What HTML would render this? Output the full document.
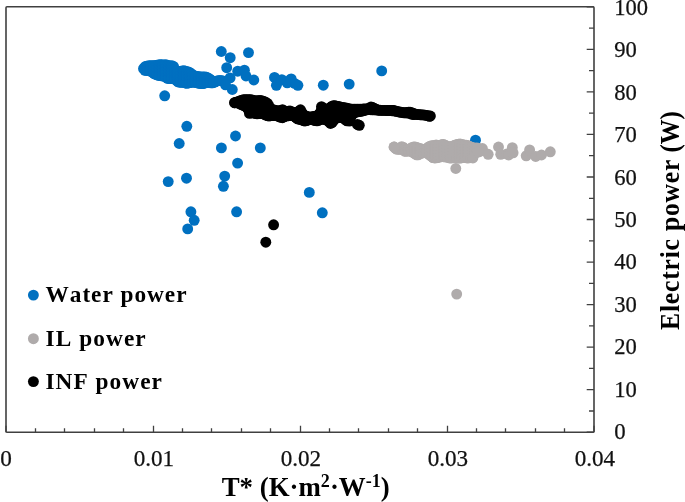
<!DOCTYPE html>
<html><head><meta charset="utf-8"><title>chart</title>
<style>
html,body{margin:0;padding:0;background:#fff;}
body{width:685px;height:502px;overflow:hidden;}
svg{display:block;}
text{font-family:"Liberation Serif",serif;fill:#111;stroke:#111;stroke-width:0.25px;}
.b{font-weight:bold;fill:#000;stroke:none;}
.k{font-kerning:none;}
</style></head><body>
<svg width="685" height="502" viewBox="0 0 685 502">
<rect width="685" height="502" fill="#fff"/>

<rect x="6.0" y="6.7" width="588.0" height="425.55" fill="none" stroke="#404040" stroke-width="1.6" rx="1"/>
<path d="M6.0 432.25v-6.5M35.5 432.25v-4M64.5 432.25v-4M94.5 432.25v-4M123.5 432.25v-4M153.5 432.25v-6.5M182.5 432.25v-4M211.5 432.25v-4M241.5 432.25v-4M270.5 432.25v-4M300.5 432.25v-6.5M329.5 432.25v-4M358.5 432.25v-4M388.5 432.25v-4M417.5 432.25v-4M447.5 432.25v-6.5M476.5 432.25v-4M505.5 432.25v-4M535.5 432.25v-4M564.5 432.25v-4M594.0 432.25v-6.5M594.0 432.2h-7.3M594.0 411.0h-5M594.0 389.7h-7.3M594.0 368.4h-5M594.0 347.2h-7.3M594.0 325.9h-5M594.0 304.6h-7.3M594.0 283.3h-5M594.0 262.1h-7.3M594.0 240.8h-5M594.0 219.5h-7.3M594.0 198.3h-5M594.0 177.0h-7.3M594.0 155.7h-5M594.0 134.4h-7.3M594.0 113.2h-5M594.0 91.9h-7.3M594.0 70.6h-5M594.0 49.3h-7.3M594.0 28.1h-5M594.0 6.8h-7.3" stroke="#404040" stroke-width="1.3" fill="none"/>
<g fill="#0070c0"><circle cx="143.5" cy="68.7" r="5.45"/><circle cx="145.0" cy="66.8" r="5.45"/><circle cx="145.0" cy="69.8" r="5.45"/><circle cx="145.0" cy="70.3" r="5.45"/><circle cx="146.5" cy="66.1" r="5.45"/><circle cx="146.5" cy="69.1" r="5.45"/><circle cx="146.5" cy="70.4" r="5.45"/><circle cx="148.0" cy="65.9" r="5.45"/><circle cx="148.0" cy="68.9" r="5.45"/><circle cx="148.0" cy="70.6" r="5.45"/><circle cx="149.5" cy="65.7" r="5.45"/><circle cx="149.5" cy="68.7" r="5.45"/><circle cx="149.5" cy="70.9" r="5.45"/><circle cx="151.0" cy="65.7" r="5.45"/><circle cx="151.0" cy="68.7" r="5.45"/><circle cx="151.0" cy="71.3" r="5.45"/><circle cx="152.5" cy="65.6" r="5.45"/><circle cx="152.5" cy="68.6" r="5.45"/><circle cx="152.5" cy="71.6" r="5.45"/><circle cx="152.5" cy="72.2" r="5.45"/><circle cx="154.0" cy="65.6" r="5.45"/><circle cx="154.0" cy="68.6" r="5.45"/><circle cx="154.0" cy="71.6" r="5.45"/><circle cx="154.0" cy="73.7" r="5.45"/><circle cx="155.5" cy="65.5" r="5.45"/><circle cx="155.5" cy="68.5" r="5.45"/><circle cx="155.5" cy="71.5" r="5.45"/><circle cx="155.5" cy="74.1" r="5.45"/><circle cx="157.0" cy="65.3" r="5.45"/><circle cx="157.0" cy="68.3" r="5.45"/><circle cx="157.0" cy="71.3" r="5.45"/><circle cx="157.0" cy="74.3" r="5.45"/><circle cx="157.0" cy="74.8" r="5.45"/><circle cx="158.5" cy="65.0" r="5.45"/><circle cx="158.5" cy="68.0" r="5.45"/><circle cx="158.5" cy="71.0" r="5.45"/><circle cx="158.5" cy="74.0" r="5.45"/><circle cx="158.5" cy="75.4" r="5.45"/><circle cx="160.0" cy="64.8" r="5.45"/><circle cx="160.0" cy="67.8" r="5.45"/><circle cx="160.0" cy="70.8" r="5.45"/><circle cx="160.0" cy="73.8" r="5.45"/><circle cx="160.0" cy="75.6" r="5.45"/><circle cx="161.5" cy="64.8" r="5.45"/><circle cx="161.5" cy="67.8" r="5.45"/><circle cx="161.5" cy="70.8" r="5.45"/><circle cx="161.5" cy="73.8" r="5.45"/><circle cx="161.5" cy="75.8" r="5.45"/><circle cx="163.0" cy="65.0" r="5.45"/><circle cx="163.0" cy="68.0" r="5.45"/><circle cx="163.0" cy="71.0" r="5.45"/><circle cx="163.0" cy="74.0" r="5.45"/><circle cx="163.0" cy="76.0" r="5.45"/><circle cx="164.5" cy="65.0" r="5.45"/><circle cx="164.5" cy="68.0" r="5.45"/><circle cx="164.5" cy="71.0" r="5.45"/><circle cx="164.5" cy="74.0" r="5.45"/><circle cx="164.5" cy="76.3" r="5.45"/><circle cx="166.0" cy="64.7" r="5.45"/><circle cx="166.0" cy="67.7" r="5.45"/><circle cx="166.0" cy="70.7" r="5.45"/><circle cx="166.0" cy="73.7" r="5.45"/><circle cx="166.0" cy="76.7" r="5.45"/><circle cx="166.0" cy="77.0" r="5.45"/><circle cx="167.5" cy="65.4" r="5.45"/><circle cx="167.5" cy="68.4" r="5.45"/><circle cx="167.5" cy="71.4" r="5.45"/><circle cx="167.5" cy="74.4" r="5.45"/><circle cx="167.5" cy="77.4" r="5.45"/><circle cx="167.5" cy="78.3" r="5.45"/><circle cx="169.0" cy="65.8" r="5.45"/><circle cx="169.0" cy="68.8" r="5.45"/><circle cx="169.0" cy="71.8" r="5.45"/><circle cx="169.0" cy="74.8" r="5.45"/><circle cx="169.0" cy="77.8" r="5.45"/><circle cx="169.0" cy="78.6" r="5.45"/><circle cx="170.5" cy="65.9" r="5.45"/><circle cx="170.5" cy="68.9" r="5.45"/><circle cx="170.5" cy="71.9" r="5.45"/><circle cx="170.5" cy="74.9" r="5.45"/><circle cx="170.5" cy="77.9" r="5.45"/><circle cx="170.5" cy="78.3" r="5.45"/><circle cx="172.0" cy="65.8" r="5.45"/><circle cx="172.0" cy="68.8" r="5.45"/><circle cx="172.0" cy="71.8" r="5.45"/><circle cx="172.0" cy="74.8" r="5.45"/><circle cx="172.0" cy="77.8" r="5.45"/><circle cx="172.0" cy="78.2" r="5.45"/><circle cx="173.5" cy="66.4" r="5.45"/><circle cx="173.5" cy="69.4" r="5.45"/><circle cx="173.5" cy="72.4" r="5.45"/><circle cx="173.5" cy="75.4" r="5.45"/><circle cx="173.5" cy="78.4" r="5.45"/><circle cx="173.5" cy="78.4" r="5.45"/><circle cx="175.0" cy="69.6" r="5.45"/><circle cx="175.0" cy="72.6" r="5.45"/><circle cx="175.0" cy="75.6" r="5.45"/><circle cx="175.0" cy="78.6" r="5.45"/><circle cx="175.0" cy="79.1" r="5.45"/><circle cx="176.5" cy="70.9" r="5.45"/><circle cx="176.5" cy="73.9" r="5.45"/><circle cx="176.5" cy="76.9" r="5.45"/><circle cx="176.5" cy="79.9" r="5.45"/><circle cx="176.5" cy="80.4" r="5.45"/><circle cx="178.0" cy="71.4" r="5.45"/><circle cx="178.0" cy="74.4" r="5.45"/><circle cx="178.0" cy="77.4" r="5.45"/><circle cx="178.0" cy="80.4" r="5.45"/><circle cx="178.0" cy="81.8" r="5.45"/><circle cx="179.5" cy="71.6" r="5.45"/><circle cx="179.5" cy="74.6" r="5.45"/><circle cx="179.5" cy="77.6" r="5.45"/><circle cx="179.5" cy="80.6" r="5.45"/><circle cx="179.5" cy="82.2" r="5.45"/><circle cx="181.0" cy="71.3" r="5.45"/><circle cx="181.0" cy="74.3" r="5.45"/><circle cx="181.0" cy="77.3" r="5.45"/><circle cx="181.0" cy="80.3" r="5.45"/><circle cx="181.0" cy="82.2" r="5.45"/><circle cx="182.5" cy="70.9" r="5.45"/><circle cx="182.5" cy="73.9" r="5.45"/><circle cx="182.5" cy="76.9" r="5.45"/><circle cx="182.5" cy="79.9" r="5.45"/><circle cx="182.5" cy="82.3" r="5.45"/><circle cx="184.0" cy="70.8" r="5.45"/><circle cx="184.0" cy="73.8" r="5.45"/><circle cx="184.0" cy="76.8" r="5.45"/><circle cx="184.0" cy="79.8" r="5.45"/><circle cx="184.0" cy="82.5" r="5.45"/><circle cx="185.5" cy="71.3" r="5.45"/><circle cx="185.5" cy="74.3" r="5.45"/><circle cx="185.5" cy="77.3" r="5.45"/><circle cx="185.5" cy="80.3" r="5.45"/><circle cx="185.5" cy="83.0" r="5.45"/><circle cx="187.0" cy="71.7" r="5.45"/><circle cx="187.0" cy="74.7" r="5.45"/><circle cx="187.0" cy="77.7" r="5.45"/><circle cx="187.0" cy="80.7" r="5.45"/><circle cx="187.0" cy="83.3" r="5.45"/><circle cx="188.5" cy="72.0" r="5.45"/><circle cx="188.5" cy="75.0" r="5.45"/><circle cx="188.5" cy="78.0" r="5.45"/><circle cx="188.5" cy="81.0" r="5.45"/><circle cx="188.5" cy="82.9" r="5.45"/><circle cx="190.0" cy="72.8" r="5.45"/><circle cx="190.0" cy="75.8" r="5.45"/><circle cx="190.0" cy="78.8" r="5.45"/><circle cx="190.0" cy="81.8" r="5.45"/><circle cx="190.0" cy="82.6" r="5.45"/><circle cx="191.5" cy="73.8" r="5.45"/><circle cx="191.5" cy="76.8" r="5.45"/><circle cx="191.5" cy="79.8" r="5.45"/><circle cx="191.5" cy="82.3" r="5.45"/><circle cx="193.0" cy="75.1" r="5.45"/><circle cx="193.0" cy="78.1" r="5.45"/><circle cx="193.0" cy="81.1" r="5.45"/><circle cx="193.0" cy="82.0" r="5.45"/><circle cx="194.5" cy="75.9" r="5.45"/><circle cx="194.5" cy="78.9" r="5.45"/><circle cx="194.5" cy="81.9" r="5.45"/><circle cx="194.5" cy="82.0" r="5.45"/><circle cx="196.0" cy="76.3" r="5.45"/><circle cx="196.0" cy="79.3" r="5.45"/><circle cx="196.0" cy="82.3" r="5.45"/><circle cx="196.0" cy="82.4" r="5.45"/><circle cx="197.5" cy="76.5" r="5.45"/><circle cx="197.5" cy="79.5" r="5.45"/><circle cx="197.5" cy="82.5" r="5.45"/><circle cx="197.5" cy="82.8" r="5.45"/><circle cx="199.0" cy="76.7" r="5.45"/><circle cx="199.0" cy="79.7" r="5.45"/><circle cx="199.0" cy="82.7" r="5.45"/><circle cx="199.0" cy="83.3" r="5.45"/><circle cx="200.5" cy="76.9" r="5.45"/><circle cx="200.5" cy="79.9" r="5.45"/><circle cx="200.5" cy="82.9" r="5.45"/><circle cx="200.5" cy="83.4" r="5.45"/><circle cx="202.0" cy="77.0" r="5.45"/><circle cx="202.0" cy="80.0" r="5.45"/><circle cx="202.0" cy="83.0" r="5.45"/><circle cx="202.0" cy="83.6" r="5.45"/><circle cx="203.5" cy="77.0" r="5.45"/><circle cx="203.5" cy="80.0" r="5.45"/><circle cx="203.5" cy="83.0" r="5.45"/><circle cx="203.5" cy="83.5" r="5.45"/><circle cx="205.0" cy="77.0" r="5.45"/><circle cx="205.0" cy="80.0" r="5.45"/><circle cx="205.0" cy="83.0" r="5.45"/><circle cx="206.5" cy="77.3" r="5.45"/><circle cx="206.5" cy="80.3" r="5.45"/><circle cx="206.5" cy="82.5" r="5.45"/><circle cx="208.0" cy="77.9" r="5.45"/><circle cx="208.0" cy="80.9" r="5.45"/><circle cx="208.0" cy="82.4" r="5.45"/><circle cx="209.5" cy="78.9" r="5.45"/><circle cx="209.5" cy="81.9" r="5.45"/><circle cx="209.5" cy="82.6" r="5.45"/><circle cx="211.0" cy="80.0" r="5.45"/><circle cx="211.0" cy="82.9" r="5.45"/><circle cx="212.5" cy="80.9" r="5.45"/><circle cx="212.5" cy="82.9" r="5.45"/><circle cx="214.0" cy="81.4" r="5.45"/><circle cx="214.0" cy="82.5" r="5.45"/><circle cx="215.5" cy="81.4" r="5.45"/><circle cx="215.5" cy="81.6" r="5.45"/><circle cx="217.0" cy="81.0" r="5.45"/><circle cx="218.5" cy="80.6" r="5.45"/><circle cx="220.0" cy="80.4" r="5.45"/><circle cx="221.5" cy="80.6" r="5.45"/><circle cx="223.0" cy="81.0" r="5.45"/><circle cx="164.7" cy="95.8" r="5.45"/><circle cx="221.3" cy="51.5" r="5.45"/><circle cx="230.2" cy="57.7" r="5.45"/><circle cx="248.5" cy="52.6" r="5.45"/><circle cx="226.7" cy="67.7" r="5.45"/><circle cx="237.7" cy="71.2" r="5.45"/><circle cx="244.4" cy="70.2" r="5.45"/><circle cx="246.0" cy="76.0" r="5.45"/><circle cx="253.8" cy="80.0" r="5.45"/><circle cx="230.1" cy="77.9" r="5.45"/><circle cx="232.3" cy="89.5" r="5.45"/><circle cx="225.5" cy="84.8" r="5.45"/><circle cx="274.5" cy="77.4" r="5.45"/><circle cx="276.4" cy="85.3" r="5.45"/><circle cx="281.8" cy="79.6" r="5.45"/><circle cx="291.2" cy="78.9" r="5.45"/><circle cx="287.2" cy="82.8" r="5.45"/><circle cx="297.9" cy="85.3" r="5.45"/><circle cx="294.6" cy="83.4" r="5.45"/><circle cx="290.7" cy="79.4" r="5.45"/><circle cx="323.3" cy="85.2" r="5.45"/><circle cx="349.2" cy="84.1" r="5.45"/><circle cx="381.7" cy="70.9" r="5.45"/><circle cx="475.5" cy="140.2" r="5.45"/><circle cx="186.8" cy="126.3" r="5.45"/><circle cx="179.2" cy="143.5" r="5.45"/><circle cx="235.5" cy="136.0" r="5.45"/><circle cx="221.4" cy="147.9" r="5.45"/><circle cx="237.6" cy="163.1" r="5.45"/><circle cx="260.3" cy="147.9" r="5.45"/><circle cx="168.2" cy="181.6" r="5.45"/><circle cx="186.5" cy="178.2" r="5.45"/><circle cx="224.7" cy="176.1" r="5.45"/><circle cx="223.4" cy="186.3" r="5.45"/><circle cx="190.9" cy="211.8" r="5.45"/><circle cx="194.2" cy="220.3" r="5.45"/><circle cx="187.7" cy="228.9" r="5.45"/><circle cx="236.6" cy="211.8" r="5.45"/><circle cx="309.3" cy="192.4" r="5.45"/><circle cx="322.3" cy="212.8" r="5.45"/></g>
<g fill="#afabab"><circle cx="394.1" cy="147.0" r="5.45"/><circle cx="395.6" cy="148.2" r="5.45"/><circle cx="395.6" cy="148.4" r="5.45"/><circle cx="397.1" cy="148.5" r="5.45"/><circle cx="397.1" cy="149.4" r="5.45"/><circle cx="398.6" cy="148.4" r="5.45"/><circle cx="398.6" cy="149.2" r="5.45"/><circle cx="400.1" cy="147.8" r="5.45"/><circle cx="400.1" cy="149.1" r="5.45"/><circle cx="401.6" cy="146.8" r="5.45"/><circle cx="401.6" cy="149.3" r="5.45"/><circle cx="403.1" cy="147.2" r="5.45"/><circle cx="403.1" cy="150.0" r="5.45"/><circle cx="404.6" cy="148.6" r="5.45"/><circle cx="404.6" cy="151.2" r="5.45"/><circle cx="406.1" cy="149.1" r="5.45"/><circle cx="406.1" cy="151.4" r="5.45"/><circle cx="407.6" cy="149.4" r="5.45"/><circle cx="407.6" cy="151.0" r="5.45"/><circle cx="409.1" cy="149.1" r="5.45"/><circle cx="409.1" cy="150.9" r="5.45"/><circle cx="410.6" cy="148.5" r="5.45"/><circle cx="410.6" cy="151.2" r="5.45"/><circle cx="412.1" cy="147.4" r="5.45"/><circle cx="412.1" cy="150.4" r="5.45"/><circle cx="412.1" cy="151.9" r="5.45"/><circle cx="413.6" cy="147.0" r="5.45"/><circle cx="413.6" cy="150.0" r="5.45"/><circle cx="413.6" cy="152.9" r="5.45"/><circle cx="415.1" cy="146.9" r="5.45"/><circle cx="415.1" cy="149.9" r="5.45"/><circle cx="415.1" cy="152.9" r="5.45"/><circle cx="415.1" cy="153.9" r="5.45"/><circle cx="416.6" cy="147.4" r="5.45"/><circle cx="416.6" cy="150.4" r="5.45"/><circle cx="416.6" cy="153.4" r="5.45"/><circle cx="416.6" cy="154.8" r="5.45"/><circle cx="418.1" cy="147.9" r="5.45"/><circle cx="418.1" cy="150.9" r="5.45"/><circle cx="418.1" cy="153.9" r="5.45"/><circle cx="418.1" cy="154.8" r="5.45"/><circle cx="419.6" cy="148.4" r="5.45"/><circle cx="419.6" cy="151.4" r="5.45"/><circle cx="419.6" cy="154.0" r="5.45"/><circle cx="421.1" cy="148.9" r="5.45"/><circle cx="421.1" cy="151.9" r="5.45"/><circle cx="421.1" cy="153.4" r="5.45"/><circle cx="422.6" cy="149.3" r="5.45"/><circle cx="422.6" cy="152.3" r="5.45"/><circle cx="422.6" cy="152.9" r="5.45"/><circle cx="424.1" cy="149.4" r="5.45"/><circle cx="424.1" cy="152.4" r="5.45"/><circle cx="424.1" cy="152.6" r="5.45"/><circle cx="425.6" cy="149.1" r="5.45"/><circle cx="425.6" cy="152.1" r="5.45"/><circle cx="425.6" cy="152.7" r="5.45"/><circle cx="427.1" cy="148.3" r="5.45"/><circle cx="427.1" cy="151.3" r="5.45"/><circle cx="427.1" cy="153.2" r="5.45"/><circle cx="428.6" cy="146.9" r="5.45"/><circle cx="428.6" cy="149.9" r="5.45"/><circle cx="428.6" cy="152.9" r="5.45"/><circle cx="428.6" cy="154.2" r="5.45"/><circle cx="430.1" cy="146.1" r="5.45"/><circle cx="430.1" cy="149.1" r="5.45"/><circle cx="430.1" cy="152.1" r="5.45"/><circle cx="430.1" cy="155.1" r="5.45"/><circle cx="430.1" cy="155.2" r="5.45"/><circle cx="431.6" cy="145.8" r="5.45"/><circle cx="431.6" cy="148.8" r="5.45"/><circle cx="431.6" cy="151.8" r="5.45"/><circle cx="431.6" cy="154.8" r="5.45"/><circle cx="431.6" cy="156.4" r="5.45"/><circle cx="433.1" cy="145.6" r="5.45"/><circle cx="433.1" cy="148.6" r="5.45"/><circle cx="433.1" cy="151.6" r="5.45"/><circle cx="433.1" cy="154.6" r="5.45"/><circle cx="433.1" cy="157.6" r="5.45"/><circle cx="433.1" cy="157.6" r="5.45"/><circle cx="434.6" cy="145.4" r="5.45"/><circle cx="434.6" cy="148.4" r="5.45"/><circle cx="434.6" cy="151.4" r="5.45"/><circle cx="434.6" cy="154.4" r="5.45"/><circle cx="434.6" cy="157.4" r="5.45"/><circle cx="434.6" cy="158.0" r="5.45"/><circle cx="436.1" cy="145.0" r="5.45"/><circle cx="436.1" cy="148.0" r="5.45"/><circle cx="436.1" cy="151.0" r="5.45"/><circle cx="436.1" cy="154.0" r="5.45"/><circle cx="436.1" cy="157.0" r="5.45"/><circle cx="436.1" cy="157.8" r="5.45"/><circle cx="437.6" cy="145.4" r="5.45"/><circle cx="437.6" cy="148.4" r="5.45"/><circle cx="437.6" cy="151.4" r="5.45"/><circle cx="437.6" cy="154.4" r="5.45"/><circle cx="437.6" cy="157.4" r="5.45"/><circle cx="437.6" cy="157.5" r="5.45"/><circle cx="439.1" cy="145.5" r="5.45"/><circle cx="439.1" cy="148.5" r="5.45"/><circle cx="439.1" cy="151.5" r="5.45"/><circle cx="439.1" cy="154.5" r="5.45"/><circle cx="439.1" cy="157.1" r="5.45"/><circle cx="440.6" cy="145.2" r="5.45"/><circle cx="440.6" cy="148.2" r="5.45"/><circle cx="440.6" cy="151.2" r="5.45"/><circle cx="440.6" cy="154.2" r="5.45"/><circle cx="440.6" cy="156.8" r="5.45"/><circle cx="442.1" cy="144.5" r="5.45"/><circle cx="442.1" cy="147.5" r="5.45"/><circle cx="442.1" cy="150.5" r="5.45"/><circle cx="442.1" cy="153.5" r="5.45"/><circle cx="442.1" cy="156.5" r="5.45"/><circle cx="442.1" cy="156.6" r="5.45"/><circle cx="443.6" cy="144.5" r="5.45"/><circle cx="443.6" cy="147.5" r="5.45"/><circle cx="443.6" cy="150.5" r="5.45"/><circle cx="443.6" cy="153.5" r="5.45"/><circle cx="443.6" cy="156.5" r="5.45"/><circle cx="443.6" cy="156.7" r="5.45"/><circle cx="445.1" cy="145.2" r="5.45"/><circle cx="445.1" cy="148.2" r="5.45"/><circle cx="445.1" cy="151.2" r="5.45"/><circle cx="445.1" cy="154.2" r="5.45"/><circle cx="445.1" cy="156.9" r="5.45"/><circle cx="446.6" cy="146.0" r="5.45"/><circle cx="446.6" cy="149.0" r="5.45"/><circle cx="446.6" cy="152.0" r="5.45"/><circle cx="446.6" cy="155.0" r="5.45"/><circle cx="446.6" cy="157.1" r="5.45"/><circle cx="448.1" cy="146.6" r="5.45"/><circle cx="448.1" cy="149.6" r="5.45"/><circle cx="448.1" cy="152.6" r="5.45"/><circle cx="448.1" cy="155.6" r="5.45"/><circle cx="448.1" cy="157.5" r="5.45"/><circle cx="449.6" cy="146.8" r="5.45"/><circle cx="449.6" cy="149.8" r="5.45"/><circle cx="449.6" cy="152.8" r="5.45"/><circle cx="449.6" cy="155.8" r="5.45"/><circle cx="449.6" cy="158.0" r="5.45"/><circle cx="451.1" cy="146.6" r="5.45"/><circle cx="451.1" cy="149.6" r="5.45"/><circle cx="451.1" cy="152.6" r="5.45"/><circle cx="451.1" cy="155.6" r="5.45"/><circle cx="451.1" cy="158.0" r="5.45"/><circle cx="452.6" cy="146.1" r="5.45"/><circle cx="452.6" cy="149.1" r="5.45"/><circle cx="452.6" cy="152.1" r="5.45"/><circle cx="452.6" cy="155.1" r="5.45"/><circle cx="452.6" cy="157.8" r="5.45"/><circle cx="454.1" cy="145.5" r="5.45"/><circle cx="454.1" cy="148.5" r="5.45"/><circle cx="454.1" cy="151.5" r="5.45"/><circle cx="454.1" cy="154.5" r="5.45"/><circle cx="454.1" cy="157.5" r="5.45"/><circle cx="454.1" cy="157.7" r="5.45"/><circle cx="455.6" cy="144.9" r="5.45"/><circle cx="455.6" cy="147.9" r="5.45"/><circle cx="455.6" cy="150.9" r="5.45"/><circle cx="455.6" cy="153.9" r="5.45"/><circle cx="455.6" cy="156.9" r="5.45"/><circle cx="455.6" cy="157.8" r="5.45"/><circle cx="457.1" cy="144.5" r="5.45"/><circle cx="457.1" cy="147.5" r="5.45"/><circle cx="457.1" cy="150.5" r="5.45"/><circle cx="457.1" cy="153.5" r="5.45"/><circle cx="457.1" cy="156.5" r="5.45"/><circle cx="457.1" cy="157.9" r="5.45"/><circle cx="458.6" cy="144.2" r="5.45"/><circle cx="458.6" cy="147.2" r="5.45"/><circle cx="458.6" cy="150.2" r="5.45"/><circle cx="458.6" cy="153.2" r="5.45"/><circle cx="458.6" cy="156.2" r="5.45"/><circle cx="458.6" cy="158.1" r="5.45"/><circle cx="460.1" cy="144.0" r="5.45"/><circle cx="460.1" cy="147.0" r="5.45"/><circle cx="460.1" cy="150.0" r="5.45"/><circle cx="460.1" cy="153.0" r="5.45"/><circle cx="460.1" cy="156.0" r="5.45"/><circle cx="460.1" cy="158.1" r="5.45"/><circle cx="461.6" cy="144.4" r="5.45"/><circle cx="461.6" cy="147.4" r="5.45"/><circle cx="461.6" cy="150.4" r="5.45"/><circle cx="461.6" cy="153.4" r="5.45"/><circle cx="461.6" cy="156.4" r="5.45"/><circle cx="461.6" cy="157.7" r="5.45"/><circle cx="463.1" cy="144.8" r="5.45"/><circle cx="463.1" cy="147.8" r="5.45"/><circle cx="463.1" cy="150.8" r="5.45"/><circle cx="463.1" cy="153.8" r="5.45"/><circle cx="463.1" cy="156.8" r="5.45"/><circle cx="463.1" cy="157.4" r="5.45"/><circle cx="464.6" cy="145.1" r="5.45"/><circle cx="464.6" cy="148.1" r="5.45"/><circle cx="464.6" cy="151.1" r="5.45"/><circle cx="464.6" cy="154.1" r="5.45"/><circle cx="464.6" cy="157.1" r="5.45"/><circle cx="464.6" cy="157.4" r="5.45"/><circle cx="466.1" cy="145.2" r="5.45"/><circle cx="466.1" cy="148.2" r="5.45"/><circle cx="466.1" cy="151.2" r="5.45"/><circle cx="466.1" cy="154.2" r="5.45"/><circle cx="466.1" cy="157.2" r="5.45"/><circle cx="466.1" cy="157.7" r="5.45"/><circle cx="467.6" cy="145.4" r="5.45"/><circle cx="467.6" cy="148.4" r="5.45"/><circle cx="467.6" cy="151.4" r="5.45"/><circle cx="467.6" cy="154.4" r="5.45"/><circle cx="467.6" cy="157.4" r="5.45"/><circle cx="467.6" cy="158.0" r="5.45"/><circle cx="469.1" cy="146.1" r="5.45"/><circle cx="469.1" cy="149.1" r="5.45"/><circle cx="469.1" cy="152.1" r="5.45"/><circle cx="469.1" cy="155.1" r="5.45"/><circle cx="469.1" cy="157.8" r="5.45"/><circle cx="470.6" cy="146.9" r="5.45"/><circle cx="470.6" cy="149.9" r="5.45"/><circle cx="470.6" cy="152.9" r="5.45"/><circle cx="470.6" cy="155.9" r="5.45"/><circle cx="470.6" cy="157.5" r="5.45"/><circle cx="472.1" cy="147.4" r="5.45"/><circle cx="472.1" cy="150.4" r="5.45"/><circle cx="472.1" cy="153.4" r="5.45"/><circle cx="472.1" cy="156.4" r="5.45"/><circle cx="472.1" cy="156.5" r="5.45"/><circle cx="473.6" cy="147.9" r="5.45"/><circle cx="473.6" cy="150.9" r="5.45"/><circle cx="473.6" cy="153.9" r="5.45"/><circle cx="473.6" cy="154.8" r="5.45"/><circle cx="475.1" cy="148.1" r="5.45"/><circle cx="475.1" cy="151.1" r="5.45"/><circle cx="475.1" cy="153.0" r="5.45"/><circle cx="476.6" cy="148.0" r="5.45"/><circle cx="476.6" cy="151.0" r="5.45"/><circle cx="476.6" cy="152.1" r="5.45"/><circle cx="478.1" cy="148.1" r="5.45"/><circle cx="478.1" cy="151.1" r="5.45"/><circle cx="478.1" cy="151.7" r="5.45"/><circle cx="479.6" cy="149.0" r="5.45"/><circle cx="479.6" cy="151.3" r="5.45"/><circle cx="481.1" cy="150.1" r="5.45"/><circle cx="481.1" cy="150.9" r="5.45"/><circle cx="394.1" cy="147.0" r="5.45"/><circle cx="455.8" cy="168.5" r="5.45"/><circle cx="456.7" cy="294.1" r="5.45"/><circle cx="472.9" cy="158.0" r="5.45"/><circle cx="482.4" cy="148.5" r="5.45"/><circle cx="488.2" cy="154.3" r="5.45"/><circle cx="478.0" cy="152.1" r="5.45"/><circle cx="498.5" cy="147.0" r="5.45"/><circle cx="500.7" cy="154.3" r="5.45"/><circle cx="506.8" cy="154.0" r="5.45"/><circle cx="508.7" cy="155.0" r="5.45"/><circle cx="512.3" cy="147.7" r="5.45"/><circle cx="513.1" cy="152.8" r="5.45"/><circle cx="526.2" cy="155.8" r="5.45"/><circle cx="529.6" cy="149.9" r="5.45"/><circle cx="535.7" cy="156.5" r="5.45"/><circle cx="541.5" cy="155.0" r="5.45"/><circle cx="550.3" cy="151.8" r="5.45"/></g>
<g fill="#000"><circle cx="234.5" cy="102.7" r="5.45"/><circle cx="236.0" cy="102.2" r="5.45"/><circle cx="237.5" cy="101.9" r="5.45"/><circle cx="237.5" cy="102.7" r="5.45"/><circle cx="239.0" cy="101.3" r="5.45"/><circle cx="239.0" cy="103.4" r="5.45"/><circle cx="240.5" cy="100.7" r="5.45"/><circle cx="240.5" cy="103.7" r="5.45"/><circle cx="240.5" cy="104.1" r="5.45"/><circle cx="242.0" cy="100.1" r="5.45"/><circle cx="242.0" cy="103.1" r="5.45"/><circle cx="242.0" cy="104.8" r="5.45"/><circle cx="243.5" cy="99.7" r="5.45"/><circle cx="243.5" cy="102.7" r="5.45"/><circle cx="243.5" cy="105.5" r="5.45"/><circle cx="245.0" cy="99.6" r="5.45"/><circle cx="245.0" cy="102.6" r="5.45"/><circle cx="245.0" cy="105.6" r="5.45"/><circle cx="245.0" cy="106.1" r="5.45"/><circle cx="246.5" cy="99.6" r="5.45"/><circle cx="246.5" cy="102.6" r="5.45"/><circle cx="246.5" cy="105.6" r="5.45"/><circle cx="246.5" cy="107.0" r="5.45"/><circle cx="248.0" cy="99.6" r="5.45"/><circle cx="248.0" cy="102.6" r="5.45"/><circle cx="248.0" cy="105.6" r="5.45"/><circle cx="248.0" cy="108.6" r="5.45"/><circle cx="248.0" cy="109.1" r="5.45"/><circle cx="249.5" cy="99.6" r="5.45"/><circle cx="249.5" cy="102.6" r="5.45"/><circle cx="249.5" cy="105.6" r="5.45"/><circle cx="249.5" cy="108.6" r="5.45"/><circle cx="249.5" cy="111.6" r="5.45"/><circle cx="249.5" cy="113.4" r="5.45"/><circle cx="251.0" cy="99.6" r="5.45"/><circle cx="251.0" cy="102.6" r="5.45"/><circle cx="251.0" cy="105.6" r="5.45"/><circle cx="251.0" cy="108.6" r="5.45"/><circle cx="251.0" cy="111.6" r="5.45"/><circle cx="251.0" cy="112.9" r="5.45"/><circle cx="252.5" cy="100.3" r="5.45"/><circle cx="252.5" cy="103.3" r="5.45"/><circle cx="252.5" cy="106.3" r="5.45"/><circle cx="252.5" cy="109.3" r="5.45"/><circle cx="252.5" cy="112.3" r="5.45"/><circle cx="252.5" cy="112.8" r="5.45"/><circle cx="254.0" cy="100.8" r="5.45"/><circle cx="254.0" cy="103.8" r="5.45"/><circle cx="254.0" cy="106.8" r="5.45"/><circle cx="254.0" cy="109.8" r="5.45"/><circle cx="254.0" cy="112.8" r="5.45"/><circle cx="254.0" cy="113.0" r="5.45"/><circle cx="255.5" cy="100.9" r="5.45"/><circle cx="255.5" cy="103.9" r="5.45"/><circle cx="255.5" cy="106.9" r="5.45"/><circle cx="255.5" cy="109.9" r="5.45"/><circle cx="255.5" cy="112.9" r="5.45"/><circle cx="255.5" cy="113.4" r="5.45"/><circle cx="257.0" cy="100.8" r="5.45"/><circle cx="257.0" cy="103.8" r="5.45"/><circle cx="257.0" cy="106.8" r="5.45"/><circle cx="257.0" cy="109.8" r="5.45"/><circle cx="257.0" cy="112.8" r="5.45"/><circle cx="257.0" cy="113.8" r="5.45"/><circle cx="258.5" cy="100.6" r="5.45"/><circle cx="258.5" cy="103.6" r="5.45"/><circle cx="258.5" cy="106.6" r="5.45"/><circle cx="258.5" cy="109.6" r="5.45"/><circle cx="258.5" cy="112.6" r="5.45"/><circle cx="258.5" cy="113.6" r="5.45"/><circle cx="260.0" cy="100.5" r="5.45"/><circle cx="260.0" cy="103.5" r="5.45"/><circle cx="260.0" cy="106.5" r="5.45"/><circle cx="260.0" cy="109.5" r="5.45"/><circle cx="260.0" cy="112.5" r="5.45"/><circle cx="260.0" cy="113.4" r="5.45"/><circle cx="261.5" cy="100.7" r="5.45"/><circle cx="261.5" cy="103.7" r="5.45"/><circle cx="261.5" cy="106.7" r="5.45"/><circle cx="261.5" cy="109.7" r="5.45"/><circle cx="261.5" cy="112.7" r="5.45"/><circle cx="261.5" cy="113.4" r="5.45"/><circle cx="263.0" cy="101.1" r="5.45"/><circle cx="263.0" cy="104.1" r="5.45"/><circle cx="263.0" cy="107.1" r="5.45"/><circle cx="263.0" cy="110.1" r="5.45"/><circle cx="263.0" cy="113.1" r="5.45"/><circle cx="263.0" cy="113.7" r="5.45"/><circle cx="264.5" cy="101.6" r="5.45"/><circle cx="264.5" cy="104.6" r="5.45"/><circle cx="264.5" cy="107.6" r="5.45"/><circle cx="264.5" cy="110.6" r="5.45"/><circle cx="264.5" cy="113.6" r="5.45"/><circle cx="264.5" cy="114.4" r="5.45"/><circle cx="266.0" cy="102.5" r="5.45"/><circle cx="266.0" cy="105.5" r="5.45"/><circle cx="266.0" cy="108.5" r="5.45"/><circle cx="266.0" cy="111.5" r="5.45"/><circle cx="266.0" cy="114.5" r="5.45"/><circle cx="266.0" cy="115.1" r="5.45"/><circle cx="267.5" cy="103.4" r="5.45"/><circle cx="267.5" cy="106.4" r="5.45"/><circle cx="267.5" cy="109.4" r="5.45"/><circle cx="267.5" cy="112.4" r="5.45"/><circle cx="267.5" cy="115.4" r="5.45"/><circle cx="267.5" cy="115.7" r="5.45"/><circle cx="269.0" cy="106.0" r="5.45"/><circle cx="269.0" cy="109.0" r="5.45"/><circle cx="269.0" cy="112.0" r="5.45"/><circle cx="269.0" cy="115.0" r="5.45"/><circle cx="269.0" cy="116.0" r="5.45"/><circle cx="270.5" cy="108.6" r="5.45"/><circle cx="270.5" cy="111.6" r="5.45"/><circle cx="270.5" cy="114.6" r="5.45"/><circle cx="270.5" cy="115.7" r="5.45"/><circle cx="272.0" cy="109.5" r="5.45"/><circle cx="272.0" cy="112.5" r="5.45"/><circle cx="272.0" cy="115.5" r="5.45"/><circle cx="272.0" cy="115.6" r="5.45"/><circle cx="273.5" cy="110.0" r="5.45"/><circle cx="273.5" cy="113.0" r="5.45"/><circle cx="273.5" cy="115.5" r="5.45"/><circle cx="275.0" cy="110.3" r="5.45"/><circle cx="275.0" cy="113.3" r="5.45"/><circle cx="275.0" cy="115.4" r="5.45"/><circle cx="276.5" cy="110.6" r="5.45"/><circle cx="276.5" cy="113.6" r="5.45"/><circle cx="276.5" cy="115.6" r="5.45"/><circle cx="278.0" cy="110.9" r="5.45"/><circle cx="278.0" cy="113.9" r="5.45"/><circle cx="278.0" cy="116.2" r="5.45"/><circle cx="279.5" cy="110.8" r="5.45"/><circle cx="279.5" cy="113.8" r="5.45"/><circle cx="279.5" cy="116.8" r="5.45"/><circle cx="281.0" cy="110.4" r="5.45"/><circle cx="281.0" cy="113.4" r="5.45"/><circle cx="281.0" cy="116.4" r="5.45"/><circle cx="281.0" cy="117.3" r="5.45"/><circle cx="282.5" cy="109.8" r="5.45"/><circle cx="282.5" cy="112.8" r="5.45"/><circle cx="282.5" cy="115.8" r="5.45"/><circle cx="282.5" cy="117.7" r="5.45"/><circle cx="284.0" cy="110.6" r="5.45"/><circle cx="284.0" cy="113.6" r="5.45"/><circle cx="284.0" cy="116.6" r="5.45"/><circle cx="284.0" cy="116.7" r="5.45"/><circle cx="285.5" cy="111.2" r="5.45"/><circle cx="285.5" cy="114.2" r="5.45"/><circle cx="285.5" cy="116.1" r="5.45"/><circle cx="287.0" cy="111.4" r="5.45"/><circle cx="287.0" cy="114.4" r="5.45"/><circle cx="287.0" cy="115.8" r="5.45"/><circle cx="288.5" cy="111.2" r="5.45"/><circle cx="288.5" cy="114.2" r="5.45"/><circle cx="288.5" cy="115.7" r="5.45"/><circle cx="290.0" cy="110.9" r="5.45"/><circle cx="290.0" cy="113.9" r="5.45"/><circle cx="290.0" cy="115.6" r="5.45"/><circle cx="291.5" cy="111.7" r="5.45"/><circle cx="291.5" cy="114.7" r="5.45"/><circle cx="291.5" cy="115.5" r="5.45"/><circle cx="293.0" cy="112.4" r="5.45"/><circle cx="293.0" cy="115.4" r="5.45"/><circle cx="293.0" cy="115.7" r="5.45"/><circle cx="294.5" cy="112.7" r="5.45"/><circle cx="294.5" cy="115.7" r="5.45"/><circle cx="294.5" cy="116.5" r="5.45"/><circle cx="296.0" cy="112.6" r="5.45"/><circle cx="296.0" cy="115.6" r="5.45"/><circle cx="296.0" cy="117.7" r="5.45"/><circle cx="297.5" cy="112.0" r="5.45"/><circle cx="297.5" cy="115.0" r="5.45"/><circle cx="297.5" cy="118.0" r="5.45"/><circle cx="297.5" cy="118.9" r="5.45"/><circle cx="299.0" cy="111.0" r="5.45"/><circle cx="299.0" cy="114.0" r="5.45"/><circle cx="299.0" cy="117.0" r="5.45"/><circle cx="299.0" cy="119.2" r="5.45"/><circle cx="300.5" cy="109.8" r="5.45"/><circle cx="300.5" cy="112.8" r="5.45"/><circle cx="300.5" cy="115.8" r="5.45"/><circle cx="300.5" cy="118.8" r="5.45"/><circle cx="300.5" cy="119.5" r="5.45"/><circle cx="302.0" cy="112.5" r="5.45"/><circle cx="302.0" cy="115.5" r="5.45"/><circle cx="302.0" cy="118.5" r="5.45"/><circle cx="302.0" cy="120.0" r="5.45"/><circle cx="303.5" cy="114.8" r="5.45"/><circle cx="303.5" cy="117.8" r="5.45"/><circle cx="303.5" cy="120.7" r="5.45"/><circle cx="305.0" cy="115.8" r="5.45"/><circle cx="305.0" cy="118.8" r="5.45"/><circle cx="305.0" cy="121.0" r="5.45"/><circle cx="306.5" cy="116.3" r="5.45"/><circle cx="306.5" cy="119.3" r="5.45"/><circle cx="306.5" cy="120.6" r="5.45"/><circle cx="308.0" cy="116.8" r="5.45"/><circle cx="308.0" cy="119.8" r="5.45"/><circle cx="308.0" cy="120.0" r="5.45"/><circle cx="309.5" cy="117.1" r="5.45"/><circle cx="309.5" cy="119.5" r="5.45"/><circle cx="311.0" cy="117.0" r="5.45"/><circle cx="311.0" cy="119.4" r="5.45"/><circle cx="312.5" cy="116.8" r="5.45"/><circle cx="312.5" cy="119.7" r="5.45"/><circle cx="314.0" cy="116.5" r="5.45"/><circle cx="314.0" cy="119.5" r="5.45"/><circle cx="314.0" cy="120.2" r="5.45"/><circle cx="315.5" cy="116.2" r="5.45"/><circle cx="315.5" cy="119.2" r="5.45"/><circle cx="315.5" cy="120.6" r="5.45"/><circle cx="317.0" cy="115.8" r="5.45"/><circle cx="317.0" cy="118.8" r="5.45"/><circle cx="317.0" cy="120.8" r="5.45"/><circle cx="318.5" cy="114.8" r="5.45"/><circle cx="318.5" cy="117.8" r="5.45"/><circle cx="318.5" cy="120.3" r="5.45"/><circle cx="320.0" cy="112.8" r="5.45"/><circle cx="320.0" cy="115.8" r="5.45"/><circle cx="320.0" cy="118.8" r="5.45"/><circle cx="320.0" cy="119.7" r="5.45"/><circle cx="321.5" cy="106.6" r="5.45"/><circle cx="321.5" cy="109.6" r="5.45"/><circle cx="321.5" cy="112.6" r="5.45"/><circle cx="321.5" cy="115.6" r="5.45"/><circle cx="321.5" cy="118.6" r="5.45"/><circle cx="321.5" cy="119.1" r="5.45"/><circle cx="323.0" cy="108.0" r="5.45"/><circle cx="323.0" cy="111.0" r="5.45"/><circle cx="323.0" cy="114.0" r="5.45"/><circle cx="323.0" cy="117.0" r="5.45"/><circle cx="323.0" cy="119.0" r="5.45"/><circle cx="324.5" cy="108.9" r="5.45"/><circle cx="324.5" cy="111.9" r="5.45"/><circle cx="324.5" cy="114.9" r="5.45"/><circle cx="324.5" cy="117.9" r="5.45"/><circle cx="324.5" cy="119.2" r="5.45"/><circle cx="326.0" cy="109.1" r="5.45"/><circle cx="326.0" cy="112.1" r="5.45"/><circle cx="326.0" cy="115.1" r="5.45"/><circle cx="326.0" cy="118.1" r="5.45"/><circle cx="326.0" cy="119.9" r="5.45"/><circle cx="327.5" cy="109.1" r="5.45"/><circle cx="327.5" cy="112.1" r="5.45"/><circle cx="327.5" cy="115.1" r="5.45"/><circle cx="327.5" cy="118.1" r="5.45"/><circle cx="327.5" cy="120.6" r="5.45"/><circle cx="329.0" cy="108.5" r="5.45"/><circle cx="329.0" cy="111.5" r="5.45"/><circle cx="329.0" cy="114.5" r="5.45"/><circle cx="329.0" cy="117.5" r="5.45"/><circle cx="329.0" cy="120.5" r="5.45"/><circle cx="329.0" cy="121.6" r="5.45"/><circle cx="330.5" cy="107.4" r="5.45"/><circle cx="330.5" cy="110.4" r="5.45"/><circle cx="330.5" cy="113.4" r="5.45"/><circle cx="330.5" cy="116.4" r="5.45"/><circle cx="330.5" cy="119.4" r="5.45"/><circle cx="330.5" cy="122.4" r="5.45"/><circle cx="330.5" cy="123.5" r="5.45"/><circle cx="332.0" cy="106.1" r="5.45"/><circle cx="332.0" cy="109.1" r="5.45"/><circle cx="332.0" cy="112.1" r="5.45"/><circle cx="332.0" cy="115.1" r="5.45"/><circle cx="332.0" cy="118.1" r="5.45"/><circle cx="332.0" cy="121.1" r="5.45"/><circle cx="332.0" cy="122.6" r="5.45"/><circle cx="333.5" cy="105.8" r="5.45"/><circle cx="333.5" cy="108.8" r="5.45"/><circle cx="333.5" cy="111.8" r="5.45"/><circle cx="333.5" cy="114.8" r="5.45"/><circle cx="333.5" cy="117.8" r="5.45"/><circle cx="333.5" cy="120.6" r="5.45"/><circle cx="335.0" cy="105.8" r="5.45"/><circle cx="335.0" cy="108.8" r="5.45"/><circle cx="335.0" cy="111.8" r="5.45"/><circle cx="335.0" cy="114.8" r="5.45"/><circle cx="335.0" cy="117.8" r="5.45"/><circle cx="335.0" cy="118.8" r="5.45"/><circle cx="336.5" cy="106.1" r="5.45"/><circle cx="336.5" cy="109.1" r="5.45"/><circle cx="336.5" cy="112.1" r="5.45"/><circle cx="336.5" cy="115.1" r="5.45"/><circle cx="336.5" cy="117.8" r="5.45"/><circle cx="338.0" cy="106.5" r="5.45"/><circle cx="338.0" cy="109.5" r="5.45"/><circle cx="338.0" cy="112.5" r="5.45"/><circle cx="338.0" cy="115.5" r="5.45"/><circle cx="338.0" cy="117.3" r="5.45"/><circle cx="339.5" cy="106.8" r="5.45"/><circle cx="339.5" cy="109.8" r="5.45"/><circle cx="339.5" cy="112.8" r="5.45"/><circle cx="339.5" cy="115.8" r="5.45"/><circle cx="339.5" cy="117.2" r="5.45"/><circle cx="341.0" cy="107.1" r="5.45"/><circle cx="341.0" cy="110.1" r="5.45"/><circle cx="341.0" cy="113.1" r="5.45"/><circle cx="341.0" cy="116.1" r="5.45"/><circle cx="341.0" cy="117.3" r="5.45"/><circle cx="342.5" cy="107.4" r="5.45"/><circle cx="342.5" cy="110.4" r="5.45"/><circle cx="342.5" cy="113.4" r="5.45"/><circle cx="342.5" cy="116.4" r="5.45"/><circle cx="342.5" cy="117.5" r="5.45"/><circle cx="344.0" cy="107.7" r="5.45"/><circle cx="344.0" cy="110.7" r="5.45"/><circle cx="344.0" cy="113.7" r="5.45"/><circle cx="344.0" cy="116.7" r="5.45"/><circle cx="344.0" cy="118.3" r="5.45"/><circle cx="345.5" cy="108.0" r="5.45"/><circle cx="345.5" cy="111.0" r="5.45"/><circle cx="345.5" cy="114.0" r="5.45"/><circle cx="345.5" cy="117.0" r="5.45"/><circle cx="345.5" cy="119.8" r="5.45"/><circle cx="347.0" cy="108.3" r="5.45"/><circle cx="347.0" cy="111.3" r="5.45"/><circle cx="347.0" cy="114.3" r="5.45"/><circle cx="347.0" cy="117.3" r="5.45"/><circle cx="347.0" cy="120.3" r="5.45"/><circle cx="347.0" cy="120.9" r="5.45"/><circle cx="348.5" cy="108.6" r="5.45"/><circle cx="348.5" cy="111.6" r="5.45"/><circle cx="348.5" cy="114.6" r="5.45"/><circle cx="348.5" cy="117.6" r="5.45"/><circle cx="348.5" cy="120.6" r="5.45"/><circle cx="348.5" cy="120.8" r="5.45"/><circle cx="350.0" cy="108.9" r="5.45"/><circle cx="350.0" cy="111.9" r="5.45"/><circle cx="350.0" cy="114.9" r="5.45"/><circle cx="350.0" cy="117.9" r="5.45"/><circle cx="350.0" cy="120.9" r="5.45"/><circle cx="350.0" cy="120.9" r="5.45"/><circle cx="351.5" cy="109.1" r="5.45"/><circle cx="351.5" cy="112.1" r="5.45"/><circle cx="351.5" cy="115.1" r="5.45"/><circle cx="351.5" cy="115.7" r="5.45"/><circle cx="353.0" cy="109.2" r="5.45"/><circle cx="353.0" cy="112.2" r="5.45"/><circle cx="353.0" cy="113.6" r="5.45"/><circle cx="354.5" cy="109.2" r="5.45"/><circle cx="354.5" cy="112.2" r="5.45"/><circle cx="354.5" cy="112.6" r="5.45"/><circle cx="356.0" cy="109.2" r="5.45"/><circle cx="356.0" cy="112.2" r="5.45"/><circle cx="357.5" cy="109.2" r="5.45"/><circle cx="357.5" cy="111.9" r="5.45"/><circle cx="359.0" cy="109.2" r="5.45"/><circle cx="359.0" cy="111.6" r="5.45"/><circle cx="360.5" cy="109.2" r="5.45"/><circle cx="360.5" cy="111.3" r="5.45"/><circle cx="362.0" cy="109.1" r="5.45"/><circle cx="362.0" cy="111.0" r="5.45"/><circle cx="363.5" cy="109.0" r="5.45"/><circle cx="363.5" cy="110.7" r="5.45"/><circle cx="365.0" cy="109.0" r="5.45"/><circle cx="365.0" cy="110.2" r="5.45"/><circle cx="366.5" cy="108.9" r="5.45"/><circle cx="366.5" cy="109.8" r="5.45"/><circle cx="368.0" cy="108.7" r="5.45"/><circle cx="368.0" cy="109.6" r="5.45"/><circle cx="369.5" cy="108.1" r="5.45"/><circle cx="369.5" cy="109.6" r="5.45"/><circle cx="371.0" cy="106.9" r="5.45"/><circle cx="371.0" cy="109.7" r="5.45"/><circle cx="372.5" cy="107.5" r="5.45"/><circle cx="372.5" cy="109.7" r="5.45"/><circle cx="374.0" cy="108.3" r="5.45"/><circle cx="374.0" cy="109.8" r="5.45"/><circle cx="375.5" cy="109.0" r="5.45"/><circle cx="375.5" cy="109.9" r="5.45"/><circle cx="377.0" cy="109.8" r="5.45"/><circle cx="377.0" cy="109.9" r="5.45"/><circle cx="378.5" cy="110.2" r="5.45"/><circle cx="380.0" cy="110.3" r="5.45"/><circle cx="381.5" cy="110.4" r="5.45"/><circle cx="383.0" cy="110.4" r="5.45"/><circle cx="384.5" cy="110.4" r="5.45"/><circle cx="386.0" cy="110.5" r="5.45"/><circle cx="387.5" cy="110.5" r="5.45"/><circle cx="389.0" cy="110.5" r="5.45"/><circle cx="389.0" cy="110.6" r="5.45"/><circle cx="390.5" cy="110.5" r="5.45"/><circle cx="390.5" cy="110.6" r="5.45"/><circle cx="392.0" cy="110.5" r="5.45"/><circle cx="392.0" cy="110.7" r="5.45"/><circle cx="393.5" cy="110.5" r="5.45"/><circle cx="393.5" cy="110.8" r="5.45"/><circle cx="395.0" cy="111.0" r="5.45"/><circle cx="396.5" cy="111.3" r="5.45"/><circle cx="398.0" cy="111.7" r="5.45"/><circle cx="399.5" cy="112.0" r="5.45"/><circle cx="401.0" cy="112.3" r="5.45"/><circle cx="402.5" cy="112.5" r="5.45"/><circle cx="404.0" cy="112.8" r="5.45"/><circle cx="405.5" cy="112.8" r="5.45"/><circle cx="407.0" cy="112.7" r="5.45"/><circle cx="407.0" cy="112.8" r="5.45"/><circle cx="408.5" cy="112.3" r="5.45"/><circle cx="408.5" cy="112.9" r="5.45"/><circle cx="410.0" cy="112.1" r="5.45"/><circle cx="410.0" cy="113.4" r="5.45"/><circle cx="411.5" cy="112.6" r="5.45"/><circle cx="411.5" cy="114.1" r="5.45"/><circle cx="413.0" cy="113.3" r="5.45"/><circle cx="413.0" cy="114.5" r="5.45"/><circle cx="414.5" cy="114.0" r="5.45"/><circle cx="414.5" cy="114.4" r="5.45"/><circle cx="416.0" cy="114.3" r="5.45"/><circle cx="417.5" cy="114.5" r="5.45"/><circle cx="419.0" cy="114.6" r="5.45"/><circle cx="420.5" cy="114.8" r="5.45"/><circle cx="422.0" cy="114.9" r="5.45"/><circle cx="423.5" cy="114.9" r="5.45"/><circle cx="425.0" cy="115.1" r="5.45"/><circle cx="426.5" cy="115.4" r="5.45"/><circle cx="428.0" cy="115.7" r="5.45"/><circle cx="429.5" cy="116.3" r="5.45"/><circle cx="359.3" cy="125.3" r="5.45"/><circle cx="357.4" cy="124.5" r="5.45"/><circle cx="273.6" cy="224.8" r="5.45"/><circle cx="265.8" cy="242.2" r="5.45"/><circle cx="430.4" cy="116.0" r="5.45"/><circle cx="234.9" cy="102.8" r="5.45"/></g>
<text x="6.1" y="466.3" font-size="23" text-anchor="middle" textLength="11.6" lengthAdjust="spacingAndGlyphs">0</text>
<text x="153.9" y="466.3" font-size="23" text-anchor="middle" textLength="40.4" lengthAdjust="spacingAndGlyphs">0.01</text>
<text x="300.9" y="466.3" font-size="23" text-anchor="middle" textLength="40.4" lengthAdjust="spacingAndGlyphs">0.02</text>
<text x="447.9" y="466.3" font-size="23" text-anchor="middle" textLength="40.4" lengthAdjust="spacingAndGlyphs">0.03</text>
<text x="594.9" y="466.3" font-size="23" text-anchor="middle" textLength="40.4" lengthAdjust="spacingAndGlyphs">0.04</text>
<text x="614.2" y="439.3" font-size="23" textLength="11.4" lengthAdjust="spacingAndGlyphs">0</text>
<text x="614.2" y="396.8" font-size="23" textLength="22.6" lengthAdjust="spacingAndGlyphs">10</text>
<text x="614.2" y="354.4" font-size="23" textLength="22.6" lengthAdjust="spacingAndGlyphs">20</text>
<text x="614.2" y="311.9" font-size="23" textLength="22.6" lengthAdjust="spacingAndGlyphs">30</text>
<text x="614.2" y="269.4" font-size="23" textLength="22.6" lengthAdjust="spacingAndGlyphs">40</text>
<text x="614.2" y="227.0" font-size="23" textLength="22.6" lengthAdjust="spacingAndGlyphs">50</text>
<text x="614.2" y="184.5" font-size="23" textLength="22.6" lengthAdjust="spacingAndGlyphs">60</text>
<text x="614.2" y="142.0" font-size="23" textLength="22.6" lengthAdjust="spacingAndGlyphs">70</text>
<text x="614.2" y="99.6" font-size="23" textLength="22.6" lengthAdjust="spacingAndGlyphs">80</text>
<text x="614.2" y="57.1" font-size="23" textLength="22.6" lengthAdjust="spacingAndGlyphs">90</text>
<text x="614.2" y="14.6" font-size="23" textLength="33.8" lengthAdjust="spacingAndGlyphs">100</text>
<text class="b" x="221.7" y="496.2" font-size="27.5" textLength="168" lengthAdjust="spacingAndGlyphs">T* (K·m<tspan font-size="18.5" dy="-9.5">2</tspan><tspan dy="9.5">·W</tspan><tspan font-size="18.5" dy="-9.5">-1</tspan><tspan dy="9.5">)</tspan></text>
<text class="b" transform="translate(679.3,329.9) rotate(-90) scale(0.93,1)" font-size="27.5" textLength="183" lengthAdjust="spacing">Electric power</text>
<text class="b" transform="translate(679.3,152.6) rotate(-90) scale(0.93,1)" font-size="27.5" textLength="44.6" lengthAdjust="spacingAndGlyphs">(W)</text>
<circle cx="33.4" cy="295.1" r="5.45" fill="#0070c0"/><text class="b k" x="45.5" y="302.3" font-size="23.3" textLength="141.0">Water power</text>
<circle cx="33.4" cy="338.7" r="5.45" fill="#afabab"/><text class="b k" x="45.5" y="345.9" font-size="23.3" textLength="100.2">IL power</text>
<circle cx="33.4" cy="381.6" r="5.45" fill="#000"/><text class="b k" x="45.5" y="389.2" font-size="23.3" textLength="116.4">INF power</text>
</svg></body></html>
